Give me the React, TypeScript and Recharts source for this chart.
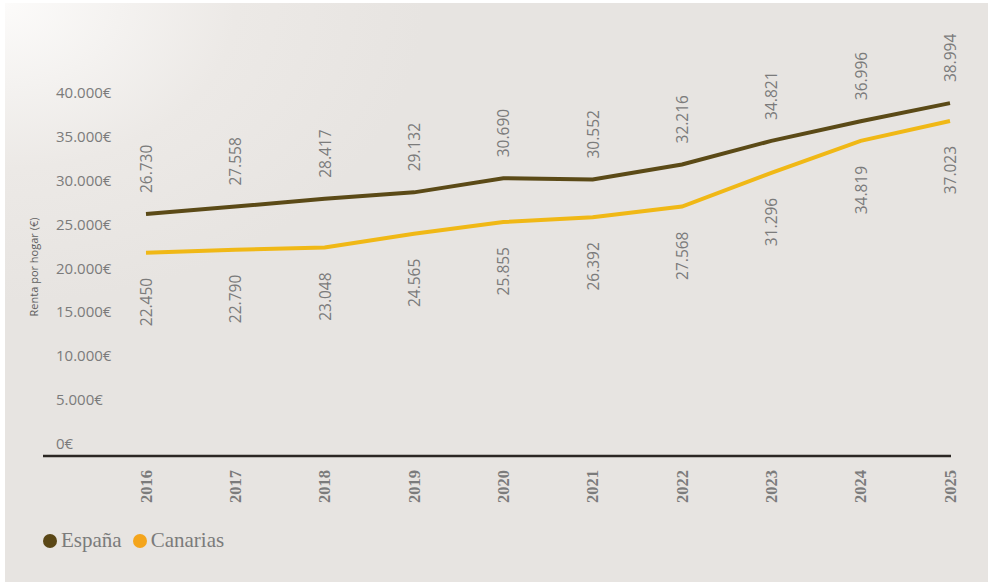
import { Label, LabelList, Line, LineChart, XAxis, YAxis } from 'recharts'

const years = ['2016', '2017', '2018', '2019', '2020', '2021', '2022', '2023', '2024', '2025']
const espana = [26730, 27558, 28417, 29132, 30690, 30552, 32216, 34821, 36996, 38994]
const canarias = [22450, 22790, 23048, 24565, 25855, 26392, 27568, 31296, 34819, 37023]
const yTicks = [0, 5000, 10000, 15000, 20000, 25000, 30000, 35000, 40000]

const data = years.map((year, i) => ({ year, espana: espana[i], canarias: canarias[i] }))

const SANS = "'Open Sans', sans-serif"
const SERIF = "'Liberation Serif', serif"
const GREY = '#7b7b7b'

function fmt(v: number) {
  return String(v).replace(/\B(?=(\d{3})+(?!\d))/g, '.')
}

function YTick({ x, y, payload }: any) {
  // labels sit a little above their gridline, more so near the bottom
  const dy = -13 + 11 * (payload.value / 40000)
  return (
    <text x={x + 13} y={y + dy} fill={GREY} fontSize={15} fontFamily={SANS} textAnchor='start' dominantBaseline='central'>
      {fmt(payload.value)}€
    </text>
  )
}

function XTick({ x, y, payload }: any) {
  const ty = y + 14
  return (
    <text
      x={x}
      y={ty}
      transform={`rotate(-90 ${x} ${ty})`}
      fill={GREY}
      fontSize={16.5}
      fontWeight={700}
      fontFamily={SERIF}
      textAnchor='end'
      dominantBaseline='central'
    >
      {payload.value}
    </text>
  )
}

function AboveLabel({ x, y, value }: any) {
  const ty = y - 21
  return (
    <text x={x} y={ty} transform={`rotate(-90 ${x} ${ty})`} fill={GREY} fontSize={15.5} fontFamily={SANS} textAnchor='start' dominantBaseline='central'>
      {fmt(value)}
    </text>
  )
}

function BelowLabel({ x, y, value }: any) {
  const ty = y + 25
  return (
    <text x={x} y={ty} transform={`rotate(-90 ${x} ${ty})`} fill={GREY} fontSize={15.5} fontFamily={SANS} textAnchor='end' dominantBaseline='central'>
      {fmt(value)}
    </text>
  )
}

function AxisTitle({ viewBox }: any) {
  const tx = viewBox.x + 33
  const ty = viewBox.y + viewBox.height / 2 - 8
  return (
    <text x={tx} y={ty} transform={`rotate(-90 ${tx} ${ty})`} fill='#5e5e5e' fontSize={11} fontFamily={SANS} textAnchor='middle' dominantBaseline='central'>
      Renta por hogar (€)
    </text>
  )
}

const legendItems = [
  { name: 'España', color: '#5a4716' },
  { name: 'Canarias', color: '#f4a51c' },
]

export default function App() {
  return (
    <div style={{ position: 'relative', width: 991, height: 582, background: '#fff', overflow: 'hidden' }}>
      <style>{'body{margin:0}'}</style>
      <div
        style={{
          position: 'absolute',
          left: 5,
          top: 3,
          width: 983,
          height: 579,
          background: 'radial-gradient(ellipse 420px 300px at 0 0, #fcfbfa 0%, #ece9e6 55%, #e7e4e1 100%)',
        }}
      />
      <div style={{ position: 'absolute', left: 0, top: 0 }}>
        <LineChart width={991} height={582} data={data} margin={{ top: 94, right: 40, bottom: 96, left: 0 }}>
          <XAxis
            dataKey='year'
            height={30}
            padding={{ left: 103, right: 1 }}
            axisLine={{ stroke: '#2b2623', strokeWidth: 2.5 }}
            tickLine={false}
            tickSize={0}
            tickMargin={0}
            tick={<XTick />}
            interval={0}
          />
          <YAxis
            width={43}
            domain={[0, 40000]}
            ticks={yTicks}
            axisLine={false}
            tickLine={false}
            tickSize={0}
            tickMargin={0}
            tick={<YTick />}
            interval={0}
          >
            <Label content={<AxisTitle />} />
          </YAxis>
          <Line type='linear' dataKey='espana' stroke='#5b4a17' strokeWidth={4} dot={false} isAnimationActive={false}>
            <LabelList dataKey='espana' content={<AboveLabel />} />
          </Line>
          <Line type='linear' dataKey='canarias' stroke='#f0b816' strokeWidth={4} dot={false} isAnimationActive={false}>
            <LabelList dataKey='canarias' content={<BelowLabel />} />
          </Line>
        </LineChart>
      </div>
      <div style={{ position: 'absolute', left: 43, top: 528, display: 'flex', alignItems: 'center', fontFamily: SERIF, fontSize: 21, color: GREY }}>
        {legendItems.map((it) => (
          <div key={it.name} style={{ display: 'flex', alignItems: 'center', marginRight: 11 }}>
            <span style={{ width: 14, height: 14, borderRadius: 7, background: it.color, marginRight: 4 }} />
            <span>{it.name}</span>
          </div>
        ))}
      </div>
    </div>
  )
}
